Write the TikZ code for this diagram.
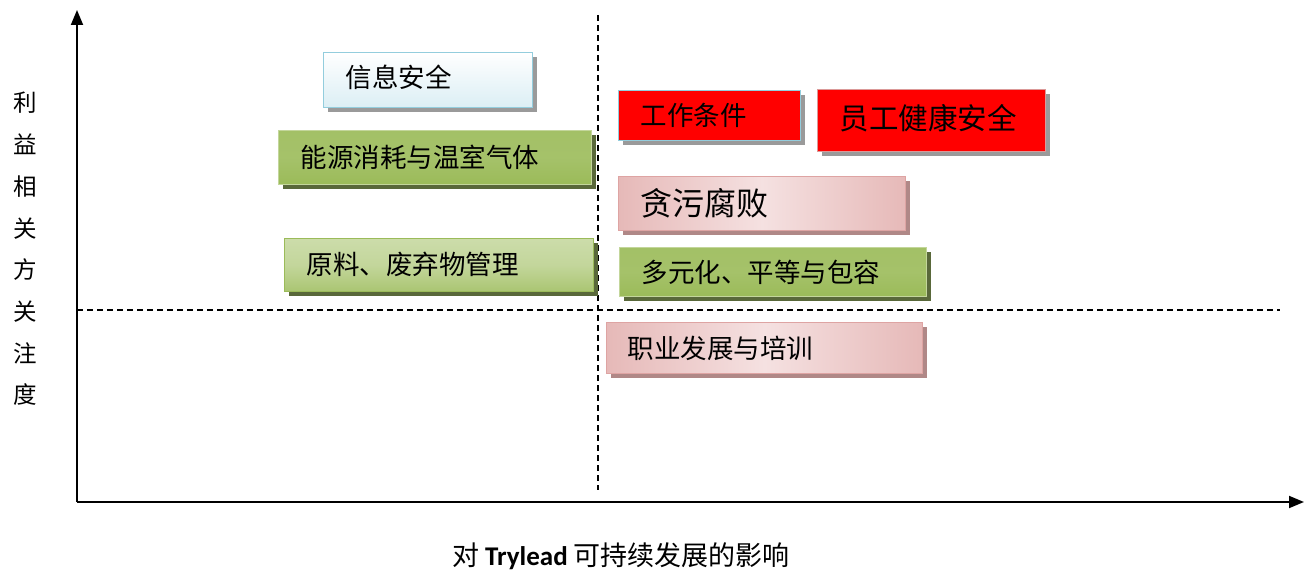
\documentclass[tikz,border=0pt]{standalone}
\usepackage{fontspec}
\setmainfont{Noto Sans CJK SC}
\newfontfamily\latfont{Carlito}
\usetikzlibrary{arrows.meta,shadows}
\definecolor{greenA}{HTML}{9BBB59}
\definecolor{greenB}{HTML}{C3D69B}
\definecolor{greenD}{HTML}{4F6228}
\definecolor{pinkA}{HTML}{E6B9B8}
\definecolor{pinkB}{HTML}{F5E1E1}
\definecolor{pinkD}{HTML}{C0504D}
\definecolor{blueA}{HTML}{DBEEF4}
\definecolor{blueB}{HTML}{93CDDD}
\definecolor{shad}{HTML}{9A9A9A}
\newcommand{\bt}[2]{\hspace*{22pt}\raisebox{#1pt}{#2}}
\tikzset{
  box/.style={anchor=north west, inner xsep=0pt, inner ysep=0pt, align=left, line width=1.2pt,
    font=\fontsize{26.5}{28}\selectfont},
  sh/.style={drop shadow={shadow xshift=4pt, shadow yshift=-4pt, opacity=1, fill=#1}},
  bluebox/.style={box, draw=blueB, top color=white, bottom color=blueA, sh=shad},
  greenbox/.style={box, draw=greenB, top color=greenA!80!greenB, bottom color=greenA, middle color=greenA!90!white, sh=greenD!80!gray},
  lgreenbox/.style={box, draw=greenA, top color=greenB!85!white, bottom color=greenA!85!white, middle color=greenB, sh=greenD!80!gray},
  redbox/.style={box, fill=red, sh=shad},
  pinkbox/.style={box, draw=pinkA!80!pinkD, left color=pinkA, right color=pinkA, middle color=pinkB, sh=pinkD!45!gray!80},
  axis/.style={line width=1.8pt, -{Triangle[length=15pt,width=12pt]}},
  guide/.style={line width=1.3pt, dash pattern=on 6pt off 4pt},
  lbl/.style={font=\fontsize{23}{26}\selectfont, inner sep=0pt}
}
\begin{document}
\begin{tikzpicture}[x=1pt,y=-1pt]
\useasboundingbox (0,0) rectangle (1310,572);
% axes and guides
\coordinate (O) at (77,502);
\coordinate (ytop) at (77,10);
\coordinate (xend) at (1304,502);
\coordinate (vd1) at (598,15);
\coordinate (vd2) at (598,490);
\coordinate (hd1) at (77,310);
\coordinate (hd2) at (1280,310);
\draw[guide] (vd1) -- (vd2);
\draw[guide] (hd1) -- (hd2);
\draw[axis] (O) -- (ytop);
\draw[axis] (O) -- (xend);
% boxes
\node[bluebox, minimum width=209pt, minimum height=55pt, text width=209pt] (b1) at (323,52) {\bt{7}{信息安全}};
\node[greenbox, minimum width=313pt, minimum height=54pt, text width=313pt] (b2) at (278,130) {\bt{2}{能源消耗与温室气体}};
\node[lgreenbox, minimum width=309pt, minimum height=53pt, text width=309pt] (b3) at (284,238) {\bt{3}{原料、废弃物管理}};
\node[redbox, draw=blueB, minimum width=182pt, minimum height=50pt, text width=182pt] (b4) at (618,90) {\bt{3}{工作条件}};
\node[redbox, draw=pinkA!70!pinkD, minimum width=228pt, minimum height=62pt, text width=228pt, font=\fontsize{29.5}{30}\selectfont] (b5) at (817,89) {\bt{8}{员工健康安全}};
\node[pinkbox, minimum width=287pt, minimum height=54pt, text width=287pt, font=\fontsize{32}{34}\selectfont] (b6) at (618,176) {\bt{3}{贪污腐败}};
\node[greenbox, draw=greenB, minimum width=307pt, minimum height=49pt, text width=307pt] (b7) at (619,247) {\bt{2}{多元化、平等与包容}};
\node[pinkbox, minimum width=316pt, minimum height=51pt, text width=316pt] (b8) at (606,322) {\hspace*{-1pt}\bt{2}{职业发展与培训}};
% labels
\node[lbl, align=center, font=\fontsize{23.5}{41.7}\selectfont] (ylab) at (25,249) {利\\益\\相\\关\\方\\关\\注\\度};
\node[lbl, font=\fontsize{27}{30}\selectfont] (xlab) at (621,556) {对 {\latfont\bfseries Trylead} 可持续发展的影响};
\end{tikzpicture}
\end{document}
